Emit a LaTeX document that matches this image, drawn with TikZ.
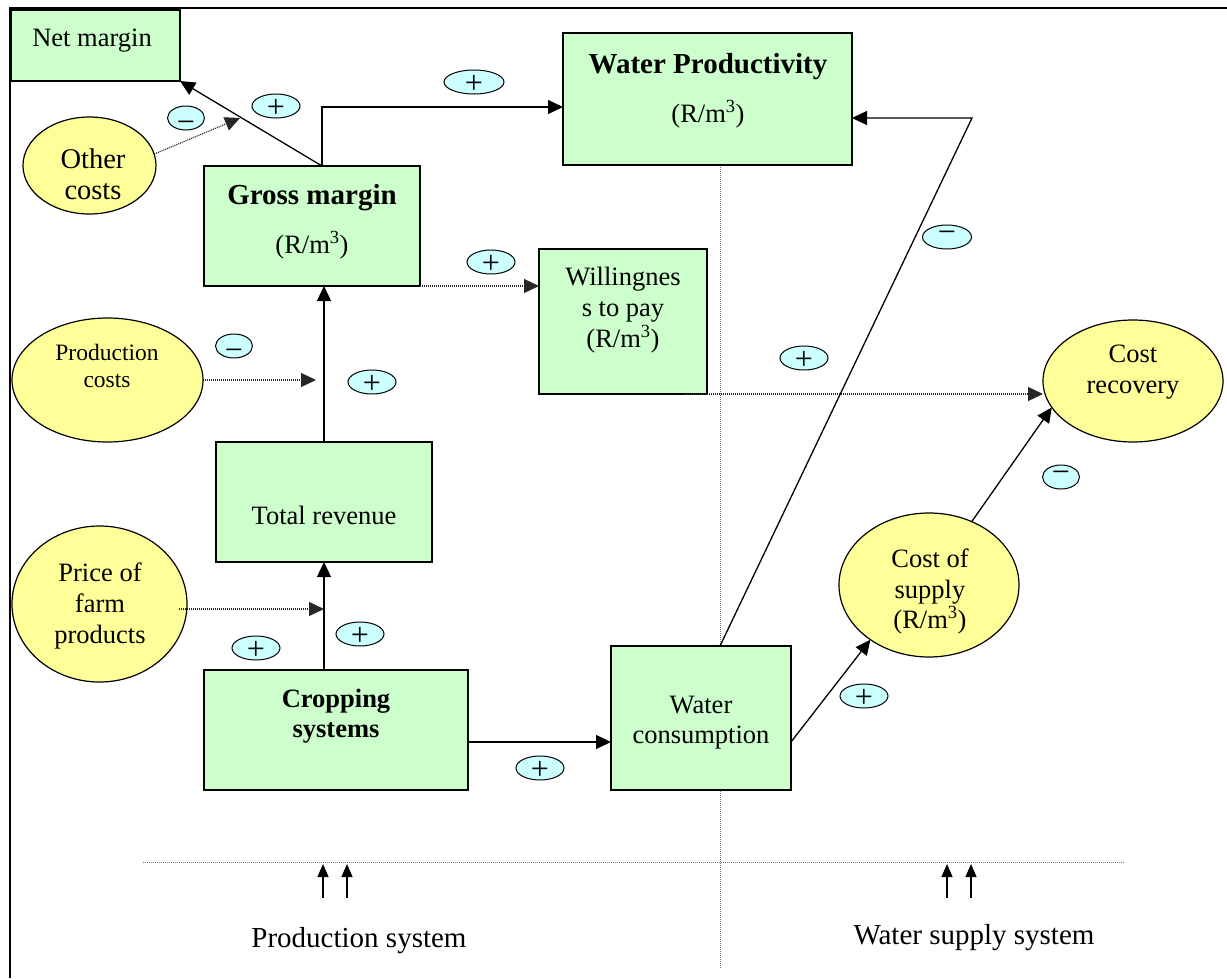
\documentclass[tikz,border=0pt]{standalone}
\usepackage{fontspec}
\setmainfont{Liberation Serif}
\usetikzlibrary{arrows.meta,shapes.geometric,calc}
\definecolor{boxgreen}{HTML}{CCFFCC}
\definecolor{ellyellow}{HTML}{FFFF99}
\definecolor{signcyan}{HTML}{CCFFFF}
\newcommand\szN{\fontsize{26.5}{31}\selectfont}
\newcommand\szB{\fontsize{29}{33}\selectfont\bfseries}
\newcommand\szC{\fontsize{26.5}{31}\selectfont\bfseries}
\newcommand\szS{\fontsize{23.5}{27}\selectfont}
\newcommand\szL{\fontsize{29}{33}\selectfont}
\newcommand\szO{\fontsize{28.5}{31}\selectfont}
\newcommand\rmc{(R/m\textsuperscript{3})}
\begin{document}
\begin{tikzpicture}[x=1pt,y=-1pt,
  gbox/.style={draw, fill=boxgreen, line width=1.5pt, inner sep=0pt, outer sep=0pt},
  yell/.style={draw, ellipse, fill=ellyellow, line width=1.2pt, inner sep=0pt, outer sep=0pt},
  sign/.style={draw, ellipse, fill=signcyan, line width=1pt, minimum width=48pt, minimum height=24pt, inner sep=0pt, text height=0pt, text depth=0pt, font=\fontsize{32}{32}\selectfont},
  txt/.style={anchor=base, inner sep=0pt, outer sep=0pt},
  arr/.style={-{Triangle[length=15pt,width=14pt]}, line width=1.3pt},
  darr/.style={-{Triangle[length=15pt,width=14pt]}, line width=1.2pt, black!85, dash pattern=on 1pt off 1pt},
  sep/.style={line width=1pt, black!55, dash pattern=on 1pt off 1pt}]
\useasboundingbox (0,0) rectangle (1227,978);
\fill[white] (0,0) rectangle (1227,978);
% frame
\draw[line width=2pt] (10,978) -- (10,8) -- (1227,8);

% separators
\coordinate (vsTop) at (720,165);
\coordinate (vsBot) at (720,968);
\coordinate (hsL) at (143,862);
\coordinate (hsR) at (1125,862);
\draw[sep] (vsTop) -- (vsBot);
\draw[sep] (hsL) -- (hsR);

% boxes
\node[gbox, minimum width=169pt, minimum height=71pt] (net) at (95.5,45.5) {};
\node[gbox, minimum width=216pt, minimum height=120pt] (gross) at (312,226) {};
\node[gbox, minimum width=289pt, minimum height=132pt] (wp) at (707.5,99) {};
\node[gbox, minimum width=168pt, minimum height=145pt] (will) at (623,321.5) {};
\node[gbox, minimum width=216pt, minimum height=120pt] (tr) at (324,502) {};
\node[gbox, minimum width=264pt, minimum height=120pt] (crop) at (336,730) {};
\node[gbox, minimum width=180pt, minimum height=144pt] (wc) at (701,718) {};

% ellipses
\node[yell, minimum width=133pt, minimum height=97pt] (oc) at (89.5,165.5) {};
\node[yell, minimum width=191pt, minimum height=124pt] (pc) at (107.5,380) {};
\node[yell, minimum width=175pt, minimum height=156pt] (price) at (99.5,604) {};
\node[yell, minimum width=180pt, minimum height=122pt] (cr) at (1133,381) {};
\node[yell, minimum width=180pt, minimum height=144pt] (cs) at (929,585) {};

% texts
\node[txt] (netT) at (92,46) {\szN Net margin};
\node[txt] (grossT) at (312,204) {\szB Gross margin};
\node[txt] (grossU) at (312,253) {\szN\rmc};
\node[txt] (wpT) at (708,73) {\szB Water Productivity};
\node[txt] (wpU) at (708,122) {\szN\rmc};
\node[txt] (willA) at (623,285) {\szN Willingnes};
\node[txt] (willB) at (623,316) {\szN s to pay};
\node[txt] (willU) at (623,347) {\szN\rmc};
\node[txt] (trT) at (324,524) {\szN Total revenue};
\node[txt] (cropA) at (336,707) {\szC Cropping};
\node[txt] (cropB) at (336,737) {\szC systems};
\node[txt] (wcA) at (701,713) {\szN Water};
\node[txt] (wcB) at (701,743) {\szN consumption};
\node[txt] (ocA) at (93,168) {\szO Other};
\node[txt] (ocB) at (93,199) {\szO costs};
\node[txt] (pcA) at (107,360) {\szS Production};
\node[txt] (pcB) at (107,387) {\szS costs};
\node[txt] (prA) at (100,581) {\szN Price of};
\node[txt] (prB) at (100,612) {\szN farm};
\node[txt] (prC) at (100,643) {\szN products};
\node[txt] (crA) at (1133,362) {\szN Cost};
\node[txt] (crB) at (1133,393) {\szN recovery};
\node[txt] (csA) at (930,567) {\szN Cost of};
\node[txt] (csB) at (930,598) {\szN supply};
\node[txt] (csC) at (930,628) {\szN\rmc};
\node[txt] (psT) at (359,947) {\szL Production system};
\node[txt] (wsT) at (974,944) {\szL Water supply system};

% connectors
\coordinate (gtop) at (322,166);
\coordinate (wpin) at (563,107);
\coordinate (octip) at (240,118);
\coordinate (pctip) at (316,380);
\coordinate (pricetip) at (324,609);
\coordinate (bend) at (972,118);
\draw[arr] (gtop) -- (net.south east);
\draw[arr] (gtop) |- (wpin);
\draw[darr] (oc.10) -- (octip);
\draw[darr] (gross.south east) -- (gross.south east -| will.west);
\draw[arr] (tr.north) -- (tr.north |- gross.south);
\draw[darr] (pc.east) -- (pctip);
\draw[arr] (tr.south |- crop.north) -- (tr.south);
\draw[darr] (179,609) -- (pricetip);
\draw[arr] ([yshift=-12pt]crop.east) -- ([yshift=-12pt]crop.east -| wc.west);
\draw[arr] ([xshift=19pt]wc.north) -- (bend) -- (bend -| wp.east);
\draw[darr] ([xshift=-24pt]will.south east) -- (will.south east -| cr.west);
\draw[arr] (cs.56) -- (cr.198);
\draw[arr] ([yshift=-24pt]wc.east) -- (cs.223);

% bottom arrows
\coordinate (pa1) at (323,898); \coordinate (pa1t) at (323,864);
\coordinate (pa2) at (347,898); \coordinate (pa2t) at (347,864);
\coordinate (wa1) at (947,898); \coordinate (wa1t) at (947,864);
\coordinate (wa2) at (971,898); \coordinate (wa2t) at (971,864);
\draw[-{Triangle[length=13pt,width=11pt]}, line width=1.2pt] (pa1) -- (pa1t);
\draw[-{Triangle[length=13pt,width=11pt]}, line width=1.2pt] (pa2) -- (pa2t);
\draw[-{Triangle[length=13pt,width=11pt]}, line width=1.2pt] (wa1) -- (wa1t);
\draw[-{Triangle[length=13pt,width=11pt]}, line width=1.2pt] (wa2) -- (wa2t);

% signs
\node[sign, minimum width=37pt] (s1) at (186,118) {\raisebox{-14pt}{\char"2212}};
\node[sign] (s2) at (276,106) {\raisebox{-11pt}{+}};
\node[sign, minimum width=60pt] (s3) at (474,82) {\raisebox{-11pt}{+}};
\node[sign] (s4) at (491,262) {\raisebox{-11pt}{+}};
\node[sign, minimum width=49pt] (s5) at (947,237) {\raisebox{-5pt}{\char"2212}};
\node[sign, minimum width=37pt] (s6) at (234,346) {\raisebox{-14pt}{\char"2212}};
\node[sign] (s7) at (372,382) {\raisebox{-11pt}{+}};
\node[sign] (s8) at (256,648) {\raisebox{-11pt}{+}};
\node[sign] (s9) at (360,634) {\raisebox{-11pt}{+}};
\node[sign] (s10) at (540,768) {\raisebox{-11pt}{+}};
\node[sign] (s11) at (864,696) {\raisebox{-11pt}{+}};
\node[sign, minimum width=37pt] (s12) at (1061,477) {\raisebox{-5pt}{\char"2212}};
\node[sign] (s13) at (804,358) {\raisebox{-11pt}{+}};
\end{tikzpicture}
\end{document}
